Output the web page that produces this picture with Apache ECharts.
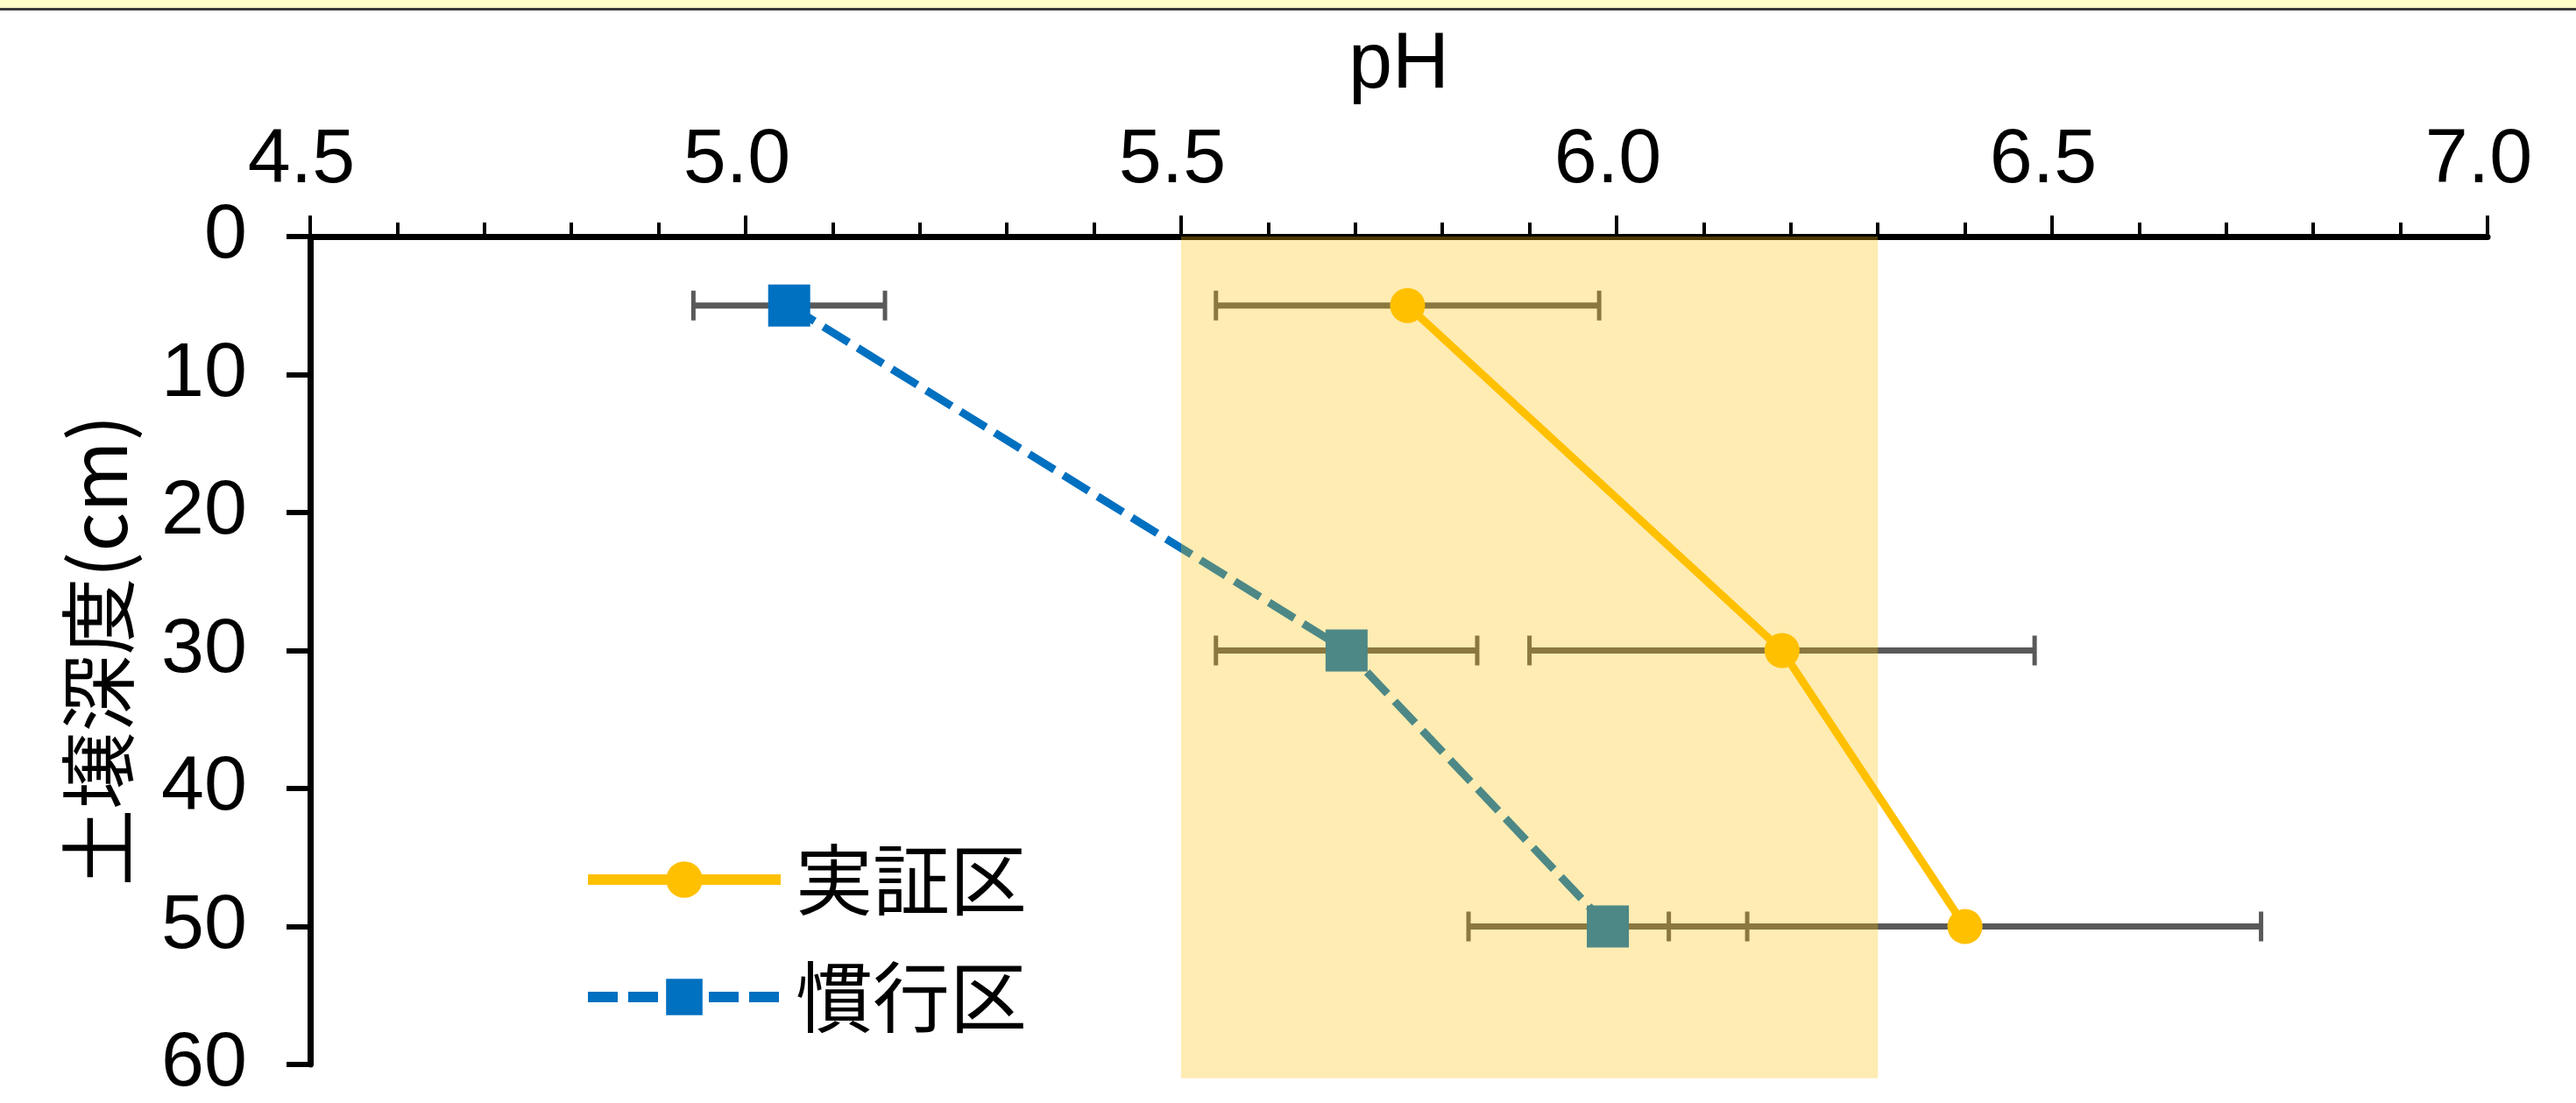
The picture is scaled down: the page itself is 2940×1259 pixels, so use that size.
<!DOCTYPE html>
<html>
<head>
<meta charset="utf-8">
<script src="https://cdn.jsdelivr.net/npm/echarts@6/dist/echarts.min.js"></script>
<style>
html,body{margin:0;padding:0;background:#fff;}
#chart{width:2940px;height:1259px;}
</style>
</head>
<body>
<div id="chart"></div>
<script>
// ---- data ----
const depths = [5, 30, 50];                 // soil depth (cm)
const jisshoMean = [5.76, 6.19, 6.40];      // 実証区 pH
const jisshoErr  = [0.22, 0.29, 0.34];
const kankoMean  = [5.05, 5.69, 5.99];      // 慣行区 pH
const kankoErr   = [0.11, 0.15, 0.16];
const targetPH   = [5.5, 6.3];              // shaded pH band
const targetDepth = [0, 61];
const xTicks = { min: 4.5, max: 7.0, interval: 0.5 };
const yTicks = { min: 0, max: 60, interval: 10 };
const seriesNames = ['実証区', '慣行区'];

const NUM_FONT = "'Liberation Sans Narrow', 'Liberation Sans', Arial, sans-serif";
const JP_FONT = "'Noto Sans CJK JP', sans-serif";

const chart = echarts.init(document.getElementById('chart'));

function errData(means, errs) {
  return depths.map((d, i) => [means[i] - errs[i], means[i] + errs[i], d]);
}

function renderErr(params, api) {
  const lo = api.coord([api.value(0), api.value(2)]);
  const hi = api.coord([api.value(1), api.value(2)]);
  const cap = 17;
  const st = { stroke: '#595959', lineWidth: 7 };
  const cs = { stroke: '#595959', lineWidth: 5 };
  return {
    type: 'group',
    children: [
      { type: 'line', shape: { x1: lo[0], y1: lo[1], x2: hi[0], y2: hi[1] }, style: st },
      { type: 'line', shape: { x1: lo[0], y1: lo[1] - cap, x2: lo[0], y2: lo[1] + cap }, style: cs },
      { type: 'line', shape: { x1: hi[0], y1: hi[1] - cap, x2: hi[0], y2: hi[1] + cap }, style: cs }
    ]
  };
}

const option = {
  backgroundColor: '#ffffff',
  animation: false,
  graphic: [
    { type: 'rect', left: 0, top: 0, shape: { width: 2940, height: 9 }, style: { fill: '#FFFFC8' }, z: 100 },
    { type: 'rect', left: 0, top: 9, shape: { width: 2940, height: 3 }, style: { fill: '#3a3a3a' }, z: 100 }
  ],
  grid: { left: 354, right: 101, top: 270, bottom: 31, containLabel: false },
  legend: {
    orient: 'vertical',
    left: 665,
    top: 960,
    padding: 0,
    itemWidth: 220,
    itemHeight: 52,
    itemGap: 46,
    data: seriesNames,
    lineStyle: { width: 12 },
    textStyle: { fontSize: 88, lineHeight: 88, fontFamily: JP_FONT, color: '#000', padding: [0, 0, 0, 12] }
  },
  xAxis: {
    type: 'value',
    position: 'top',
    min: xTicks.min, max: xTicks.max, interval: xTicks.interval,
    name: 'pH',
    nameLocation: 'middle',
    nameGap: 150,
    nameTextStyle: { fontSize: 90, fontFamily: NUM_FONT, color: '#000' },
    axisLine: { show: true, lineStyle: { color: '#000', width: 7 } },
    axisTick: { show: true, inside: false, length: 24, lineStyle: { color: '#000', width: 4 } },
    minorTick: { show: true, splitNumber: 5, length: 16, lineStyle: { color: '#000', width: 4 } },
    splitLine: { show: false },
    minorSplitLine: { show: false },
    axisLabel: {
      margin: 42, fontSize: 88, fontFamily: NUM_FONT, color: '#000',
      padding: [0, 20, 0, 0],
      formatter: v => v.toFixed(1)
    }
  },
  yAxis: {
    type: 'value',
    inverse: true,
    min: yTicks.min, max: yTicks.max, interval: yTicks.interval,
    name: '土壌深度(cm)',
    nameLocation: 'middle',
    nameGap: 198,
    nameTextStyle: { fontSize: 88, fontFamily: JP_FONT, color: '#000' },
    axisLine: { show: true, lineStyle: { color: '#000', width: 7 } },
    axisTick: { show: true, inside: false, length: 27, lineStyle: { color: '#000', width: 6 } },
    splitLine: { show: false },
    axisLabel: { margin: 72, fontSize: 88, fontFamily: NUM_FONT, color: '#000' }
  },
  series: [
    {
      type: 'custom', name: 'err1', z: 1, silent: true,
      renderItem: renderErr,
      encode: { x: [0, 1], y: 2 },
      data: errData(jisshoMean, jisshoErr)
    },
    {
      type: 'custom', name: 'err2', z: 1, silent: true,
      renderItem: renderErr,
      encode: { x: [0, 1], y: 2 },
      data: errData(kankoMean, kankoErr)
    },
    {
      type: 'line', name: seriesNames[0], z: 3,
      data: depths.map((d, i) => [jisshoMean[i], d]),
      symbol: 'circle', symbolSize: 40,
      lineStyle: { color: '#FFC000', width: 9 },
      itemStyle: { color: '#FFC000' }
    },
    {
      type: 'line', name: seriesNames[1], z: 3,
      data: depths.map((d, i) => [kankoMean[i], d]),
      symbol: 'rect', symbolSize: 48,
      lineStyle: { color: '#0070C0', width: 9, type: [34, 12] },
      itemStyle: { color: '#0070C0' }
    },
    {
      type: 'custom', name: 'band', z: 10, silent: true, clip: false,
      renderItem: function (params, api) {
        const p0 = api.coord([api.value(0), api.value(2)]);
        const p1 = api.coord([api.value(1), api.value(3)]);
        return {
          type: 'rect',
          shape: { x: p0[0], y: p0[1], width: p1[0] - p0[0], height: p1[1] - p0[1] },
          style: { fill: 'rgba(255,192,0,0.3)' }
        };
      },
      encode: { x: [0, 1], y: [2, 3] },
      data: [[targetPH[0], targetPH[1], targetDepth[0], targetDepth[1]]]
    }
  ]
};
chart.setOption(option);
</script>
</body>
</html>
